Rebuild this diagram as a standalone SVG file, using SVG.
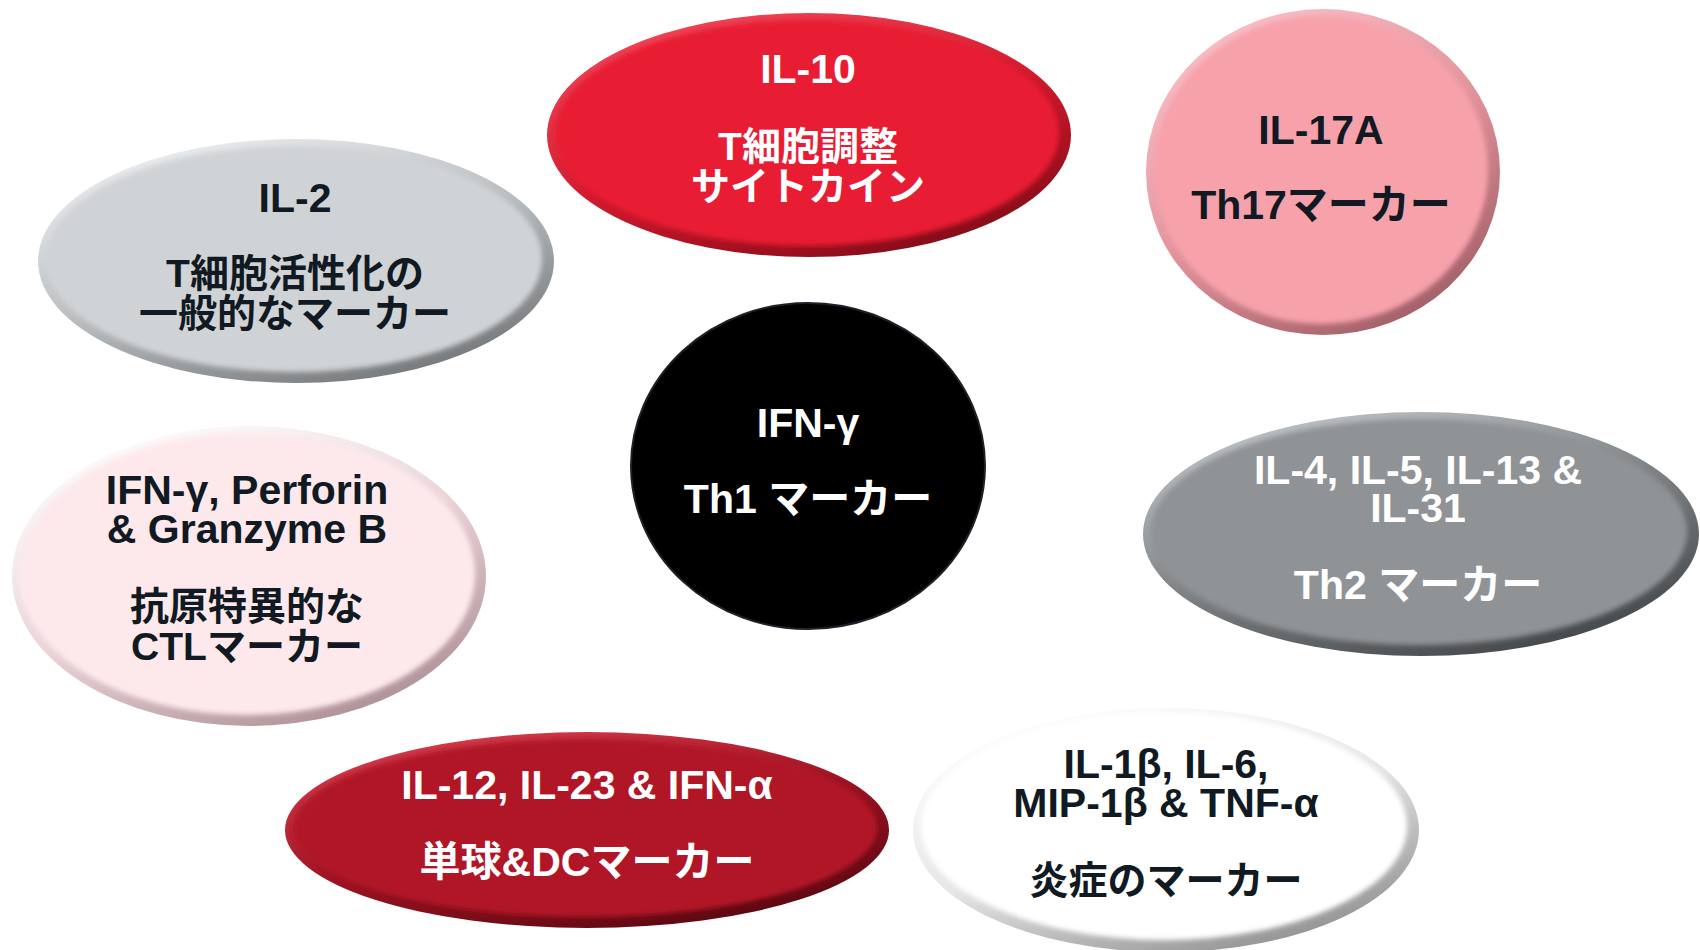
<svg xmlns="http://www.w3.org/2000/svg" width="1700" height="950" viewBox="0 0 1700 950">
<style>
text{font-family:"Liberation Sans","Noto Sans CJK JP",sans-serif;font-weight:bold;font-size:41px;text-anchor:middle}
.j{font-size:39px}
.w{fill:#ffffff}
.d{fill:#111a22}
.inner{filter:url(#soft)}
</style>
<defs>
<filter id="soft" x="-10%" y="-10%" width="120%" height="120%"><feGaussianBlur stdDeviation="2.5"/></filter>
<linearGradient id="gRed" x1="0.2" y1="0" x2="0.8" y2="1"><stop offset="0" stop-color="#f24a5c"/><stop offset="0.5" stop-color="#d41a2e"/><stop offset="1" stop-color="#7d0a16"/></linearGradient>
<linearGradient id="gPink" x1="0.2" y1="0" x2="0.8" y2="1"><stop offset="0" stop-color="#fbc2c9"/><stop offset="0.5" stop-color="#e3939c"/><stop offset="1" stop-color="#9b5a62"/></linearGradient>
<linearGradient id="gGray" x1="0.2" y1="0" x2="0.8" y2="1"><stop offset="0" stop-color="#eef0f2"/><stop offset="0.5" stop-color="#b9bcbf"/><stop offset="1" stop-color="#6e7275"/></linearGradient>
<linearGradient id="gCtl" x1="0.2" y1="0" x2="0.8" y2="1"><stop offset="0" stop-color="#ffffff"/><stop offset="0.5" stop-color="#ead4d8"/><stop offset="1" stop-color="#a88a90"/></linearGradient>
<linearGradient id="gTh2" x1="0.2" y1="0" x2="0.8" y2="1"><stop offset="0" stop-color="#c3c6c9"/><stop offset="0.5" stop-color="#7d8184"/><stop offset="1" stop-color="#3e4245"/></linearGradient>
<linearGradient id="gDark" x1="0.2" y1="0" x2="0.8" y2="1"><stop offset="0" stop-color="#d9404f"/><stop offset="0.5" stop-color="#9e1322"/><stop offset="1" stop-color="#55070f"/></linearGradient>
<linearGradient id="gWhite" x1="0.2" y1="0" x2="0.8" y2="1"><stop offset="0" stop-color="#ffffff"/><stop offset="0.5" stop-color="#e6e6e6"/><stop offset="1" stop-color="#8a8a8a"/></linearGradient>
</defs>

<g id="connectors"></g>

<g id="node-il10">
<ellipse cx="809" cy="135" rx="262" ry="122" fill="url(#gRed)"/>
<ellipse class="inner" cx="807" cy="133" rx="252" ry="113" fill="#e81a32"/>
<text class="w" x="808" y="83">IL-10</text>
<text class="w j" x="808" y="160">T細胞調整</text>
<text class="w j" x="808" y="200">サイトカイン</text>
</g>

<g id="node-il17a">
<ellipse cx="1323" cy="172" rx="177" ry="163" fill="url(#gPink)"/>
<ellipse class="inner" cx="1321" cy="170" rx="167" ry="154" fill="#f7a1ab"/>
<text class="d" x="1321" y="144">IL-17A</text>
<text class="d" x="1321" y="219">Th17マーカー</text>
</g>

<g id="node-il2">
<ellipse cx="296" cy="261" rx="258" ry="122" fill="url(#gGray)"/>
<ellipse class="inner" cx="294" cy="259" rx="248" ry="113" fill="#d0d3d6"/>
<text class="d" x="295" y="212">IL-2</text>
<text class="d j" x="295" y="287">T細胞活性化の</text>
<text class="d j" x="295" y="327">一般的なマーカー</text>
</g>

<g id="node-ifng">
<ellipse cx="808" cy="466" rx="177" ry="163" fill="#000000" stroke="#1c2228" stroke-width="2"/>
<text class="w" x="808" y="437">IFN-γ</text>
<text class="w" x="808" y="513">Th1 マーカー</text>
</g>

<g id="node-ctl">
<ellipse cx="249" cy="576" rx="237" ry="150" fill="url(#gCtl)"/>
<ellipse class="inner" cx="247" cy="574" rx="228" ry="141" fill="#fde9ec"/>
<text class="d" x="247" y="504">IFN-γ, Perforin</text>
<text class="d" x="247" y="543">&amp; Granzyme B</text>
<text class="d j" x="247" y="620">抗原特異的な</text>
<text class="d j" x="247" y="660">CTLマーカー</text>
</g>

<g id="node-th2">
<ellipse cx="1421" cy="534" rx="278" ry="122" fill="url(#gTh2)"/>
<ellipse class="inner" cx="1419" cy="532" rx="268" ry="113" fill="#8f9396"/>
<text class="w" x="1418" y="484">IL-4, IL-5, IL-13 &amp;</text>
<text class="w" x="1418" y="522">IL-31</text>
<text class="w" x="1418" y="599">Th2 マーカー</text>
</g>

<g id="node-il12">
<ellipse cx="587" cy="830" rx="302" ry="98" fill="url(#gDark)"/>
<ellipse class="inner" cx="585" cy="828" rx="292" ry="89" fill="#b01627"/>
<text class="w" x="587" y="799">IL-12, IL-23 &amp; IFN-α</text>
<text class="w" x="587" y="876">単球&amp;DCマーカー</text>
</g>

<g id="node-inflam">
<ellipse cx="1166" cy="830" rx="253" ry="122" fill="url(#gWhite)"/>
<ellipse class="inner" cx="1164" cy="826" rx="243" ry="114" fill="#ffffff"/>
<text class="d" x="1166" y="778">IL-1β, IL-6,</text>
<text class="d" x="1166" y="817">MIP-1β &amp; TNF-α</text>
<text class="d j" x="1166" y="894">炎症のマーカー</text>
</g>
</svg>
